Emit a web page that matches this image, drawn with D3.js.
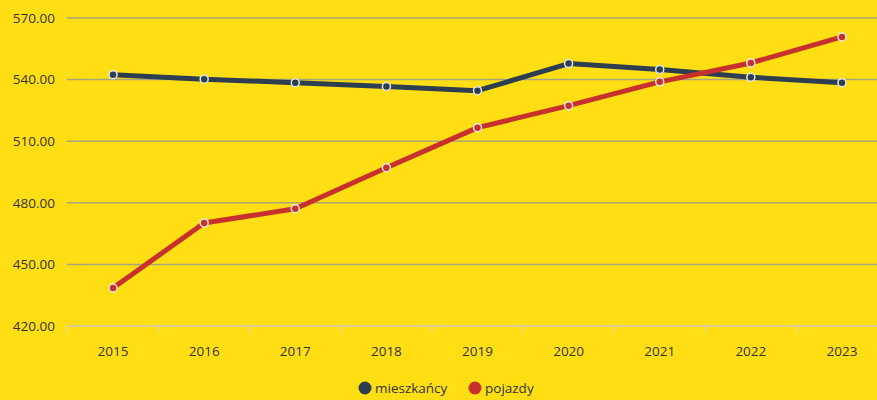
<!DOCTYPE html>
<html>
<head>
<meta charset="utf-8">
<script src="https://cdn.jsdelivr.net/npm/d3@7"></script>
<style>
  body { margin: 0; background: #ffde14; }
  svg { display: block; font-family: "Open Sans", sans-serif; }
  .grid line { stroke: #a9a57a; stroke-width: 1.5; }
  .lbl { fill: #333; font-size: 13.5px; }
</style>
</head>
<body>
<div id="chart"></div>
<script>
var years = ["2015", "2016", "2017", "2018", "2019", "2020", "2021", "2022", "2023"];
var mieszkancy = [542.4, 540.2, 538.5, 536.6, 534.6, 547.8, 544.9, 541.1, 538.5];
var pojazdy = [438.5, 470.2, 477.1, 497.1, 516.6, 527.3, 538.9, 548.1, 560.8];
var yTicks = [420, 450, 480, 510, 540, 570];
var seriesNames = ["mieszkańcy", "pojazdy"];
var colors = ["#2c3e50", "#c8302e"];

var width = 877, height = 400;
var svg = d3.select("#chart").append("svg")
  .attr("width", width)
  .attr("height", height);

svg.append("rect").attr("width", width).attr("height", height).attr("fill", "#ffde14");

var x = d3.scaleBand().domain(years).range([67.5, 887.5]);
var y = d3.scaleLinear().domain([420, 570]).range([326, 18]);

// grid
svg.append("g").attr("class", "grid")
  .selectAll("line").data(yTicks.slice(1)).enter().append("line")
  .attr("x1", 67).attr("x2", width)
  .attr("y1", d => y(d)).attr("y2", d => y(d));

// y labels
svg.append("g").selectAll("text").data(yTicks).enter().append("text")
  .attr("class", "lbl")
  .attr("x", 55).attr("y", d => y(d))
  .attr("dy", "0.35em")
  .attr("text-anchor", "end")
  .text(d => d3.format(".2f")(d));

// x axis
var xAxis = svg.append("g");
xAxis.append("line")
  .attr("x1", 67).attr("x2", width)
  .attr("y1", y(420)).attr("y2", y(420))
  .attr("stroke", "#c9c9c0").attr("stroke-width", 1.5);
xAxis.selectAll("line.tick").data(years).enter().append("line")
  .attr("class", "tick")
  .attr("x1", d => x(d)).attr("x2", d => x(d))
  .attr("y1", y(420)).attr("y2", y(420) + 7)
  .attr("stroke", "#d8d8d0").attr("stroke-width", 1);
xAxis.selectAll("text").data(years).enter().append("text")
  .attr("class", "lbl")
  .attr("x", d => x(d) + x.bandwidth() / 2)
  .attr("y", 351)
  .attr("dy", "0.35em")
  .attr("text-anchor", "middle")
  .text(d => d);

var line = d3.line()
  .x((d, i) => x(years[i]) + x.bandwidth() / 2)
  .y(d => y(d));

[mieszkancy, pojazdy].forEach(function(vals, k) {
  var g = svg.append("g");
  g.append("path")
    .attr("d", line(vals))
    .attr("fill", "none")
    .attr("stroke", colors[k])
    .attr("stroke-width", 5)
    .attr("stroke-linejoin", "round");
  g.selectAll("circle").data(vals).enter().append("circle")
    .attr("cx", (d, i) => x(years[i]) + x.bandwidth() / 2)
    .attr("cy", d => y(d))
    .attr("r", 4)
    .attr("fill", colors[k])
    .attr("stroke", "#e6e6e6")
    .attr("stroke-width", 1.5);
});

// legend
var legend = svg.append("g");
var lx = [365, 475];
seriesNames.forEach(function(name, k) {
  legend.append("circle")
    .attr("cx", lx[k]).attr("cy", 388).attr("r", 6.5)
    .attr("fill", colors[k]);
  legend.append("text")
    .attr("class", "lbl")
    .attr("x", lx[k] + 10).attr("y", 388)
    .attr("dy", "0.35em")
    .text(name);
});
</script>
</body>
</html>
